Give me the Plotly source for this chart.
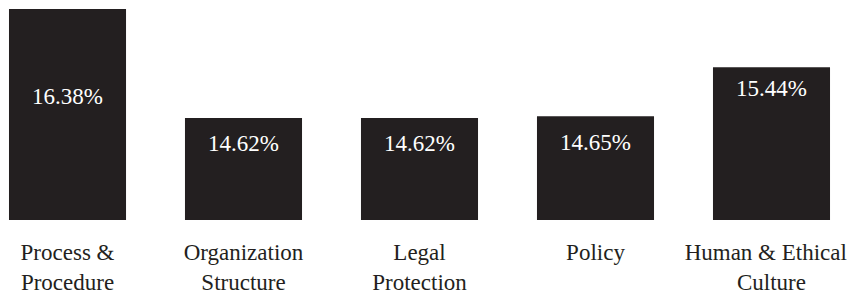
import plotly.graph_objects as go

categories = ["Process &<br>Procedure", "Organization<br>Structure", "Legal<br>Protection", "Policy",
              "Human & Ethical\u00a0\u00a0<br>Culture"]
values = [16.38, 14.62, 14.62, 14.65, 15.44]
value_labels = ["16.38%", "14.62%", "14.62%", "14.65%", "15.44%"]
label_offsets = [-88, -26, -26, -26, -21]  # px below bar top (style)

BAR = "#231f20"
FONT = "Liberation Serif, serif"

x = list(range(len(categories)))
fig = go.Figure(go.Bar(x=x, y=values, marker=dict(color=BAR, line=dict(width=0)), hoverinfo="skip"))

for i, (v, t, off) in enumerate(zip(values, value_labels, label_offsets)):
    fig.add_annotation(x=i, y=v, text=t, showarrow=False, yanchor="middle", yshift=off,
                       font=dict(family=FONT, size=23, color="white"))

fig.update_layout(
    width=848, height=290,
    margin=dict(l=0, r=0, t=0, b=78, autoexpand=False),
    plot_bgcolor="white", paper_bgcolor="white",
    bargap=0.335, showlegend=False,
    font=dict(family=FONT, size=23, color=BAR),
)
fig.update_xaxes(range=[-0.3381, 4.4801], tickvals=x, ticktext=categories, showgrid=False,
                 zeroline=False, showline=False, ticks="", ticklabelstandoff=16,
                 ticklabeloverflow="allow", automargin=False,
                 tickfont=dict(family=FONT, size=23, color=BAR))
fig.update_yaxes(range=[12.973, 16.396], visible=False, showgrid=False, zeroline=False, automargin=False)

fig.write_html("out.html")
